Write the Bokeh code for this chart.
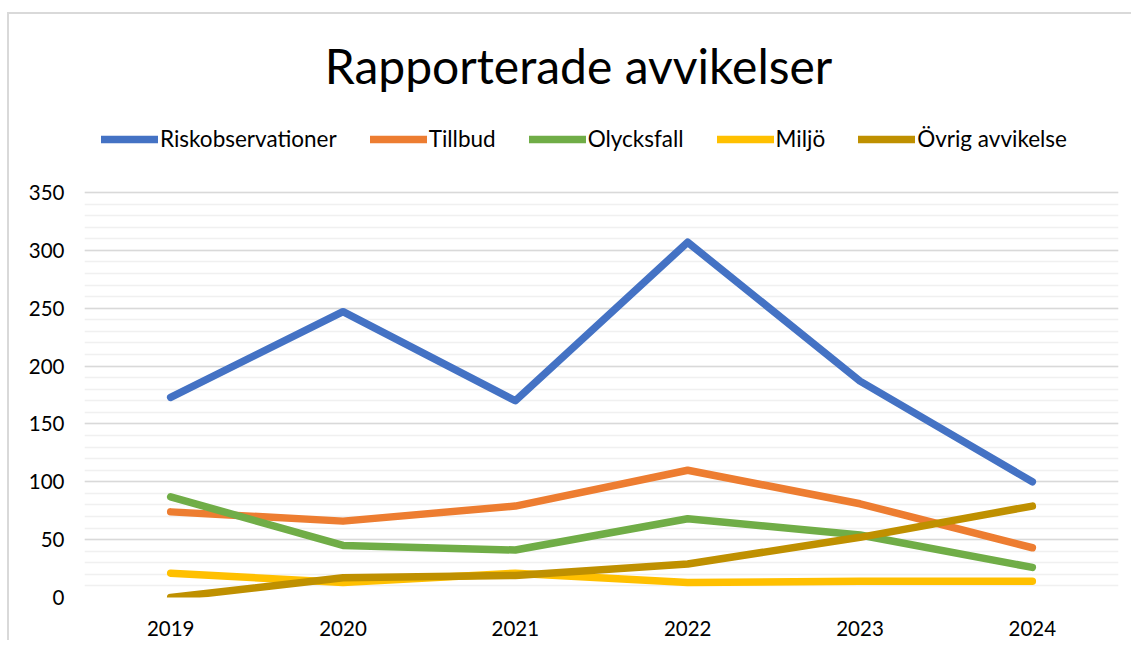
from bokeh.plotting import figure
from bokeh.models import FactorRange, Range1d, Legend, LegendItem, Label, FixedTicker
from bokeh.embed import file_html
from bokeh.resources import INLINE

# ---- data ----
years = ["2019", "2020", "2021", "2022", "2023", "2024"]
riskobservationer = [173, 247, 170, 307, 187, 100]
tillbud = [74, 66, 79, 110, 81, 43]
olycksfall = [87, 45, 41, 68, 54, 26]
miljo = [21, 13, 21, 13, 14, 14]
ovrig = [0, 17, 19, 29, 52, 79]

series_names = ["Riskobservationer", "Tillbud", "Olycksfall", "Miljö", "Övrig avvikelse"]
series_values = [riskobservationer, tillbud, olycksfall, miljo, ovrig]
series_colors = ["#4472C4", "#ED7D31", "#70AD47", "#FFC000", "#BF9000"]

y_major = [0, 50, 100, 150, 200, 250, 300, 350]
y_minor = list(range(0, 351, 10))

FONT = "Lato"

# layout (pixels)
BORDER_L = 75
BORDER_B = 45
PLOT_H = 405          # height of the 0..350 data area
FRAME_H = 583         # frame extends above the data area to hold title + legend
Y_TOP = 350 * FRAME_H / PLOT_H

p = figure(
    width=1124, height=BORDER_B + FRAME_H,
    x_range=FactorRange(factors=years, range_padding=0),
    y_range=Range1d(0, Y_TOP),
    output_backend="svg", toolbar_location=None,
    min_border_left=BORDER_L, min_border_right=15, min_border_top=0, min_border_bottom=BORDER_B,
)
p.styles = {"border-left": "2px solid #d9d9d9", "border-top": "2px solid #d9d9d9",
            "margin-top": "12px", "margin-left": "7px"}
p.outline_line_color = None
p.background_fill_color = "white"
p.border_fill_color = "white"

renderers = []
for name, vals, col in zip(series_names, series_values, series_colors):
    r = p.line(years, vals, line_color=col, line_width=7.5, line_cap="round", line_join="round")
    renderers.append(r)

# axes
p.yaxis.ticker = FixedTicker(ticks=y_major, minor_ticks=y_minor)
p.yaxis.axis_line_color = None
p.yaxis.major_tick_line_color = None
p.yaxis.minor_tick_line_color = None
p.yaxis.major_tick_out = 0
p.yaxis.major_label_standoff = 16
p.yaxis.major_label_text_font = FONT
p.yaxis.major_label_text_font_size = "20.5px"
p.yaxis.major_label_text_color = "#000000"

p.xaxis.axis_line_color = None
p.xaxis.major_tick_line_color = None
p.xaxis.minor_tick_line_color = None
p.xaxis.major_tick_out = 0
p.xaxis.major_label_standoff = 23
p.xaxis.major_label_text_font = FONT
p.xaxis.major_label_text_font_size = "20.5px"
p.xaxis.major_label_text_color = "#000000"

p.xgrid.grid_line_color = None
p.ygrid.grid_line_color = "#d9d9d9"
p.ygrid.grid_line_width = 1.5
p.ygrid.minor_grid_line_color = "#f0f0f0"
p.ygrid.minor_grid_line_width = 1.5

# title
title = Label(x=494, y=532, x_units="screen", y_units="screen",
              text="Rapporterade avvikelser", text_font=FONT, text_font_size="48px",
              text_align="center", text_baseline="alphabetic", text_color="#000000")
p.add_layout(title)

legend = Legend(
    items=[LegendItem(label=n, renderers=[r]) for n, r in zip(series_names, renderers)],
    orientation="horizontal", location=(17, 445),
    glyph_width=57, glyph_height=24, label_height=24, label_standoff=2, spacing=33,
    padding=0, margin=0, border_line_alpha=0, background_fill_alpha=0,
    label_text_font=FONT, label_text_font_size="22.5px", label_text_color="#000000",
)
p.add_layout(legend, "center")

open("out.html", "w").write(file_html(p, INLINE))
